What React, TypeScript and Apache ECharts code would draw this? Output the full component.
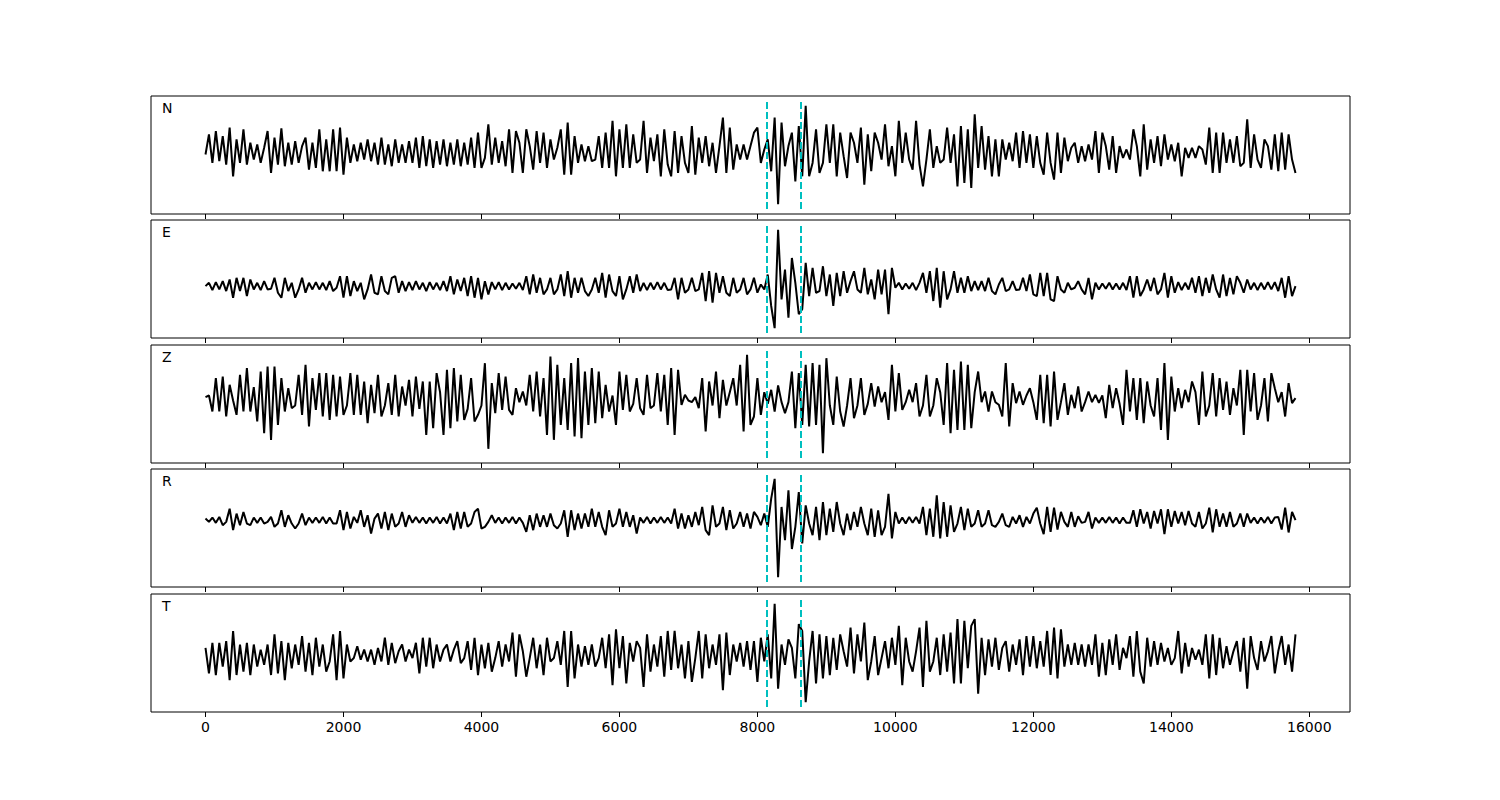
import React, { useEffect, useRef } from "react";
import * as echarts from "echarts";

// sample spacing along the x axis (samples)
const STEP = 50;
const CHANNELS = ["N", "E", "Z", "R", "T"];
const PICKS = [8130, 8630];
const TICKS = [0, 2000, 4000, 6000, 8000, 10000, 12000, 14000, 16000];
const X_MIN = -790;
const X_MAX = 16590;

const N_VALUES = [
  -5,55,-30,65,-25,50,-35,75,-70,40,-30,70,-35,30,-20,25,-30,15,65,-60,45,-35,73,-40,30,-35,35,-30,20,45,-50,30,-45,70,-55,40,-55,70,-55,75,-65,45,-30,25,-25,30,-20,40,-25,30,-35,45,-35,25,-40,40,-30,25,-30,35,-30,45,-45,50,-40,40,-45,35,-35,40,-40,30,-35,40,-40,30,-35,45,-45,
  60,-45,-15,85,-35,45,-30,35,-40,70,-60,65,30,-60,70,20,-50,65,-30,60,-45,40,-20,15,70,-65,90,-65,50,-30,25,-25,20,-25,-20,50,-45,60,-45,95,-70,70,-45,85,-45,55,-30,-20,95,-60,45,-25,55,-70,70,-35,-70,65,-60,50,-30,-60,80,-65,45,-30,50,-40,30,-60,20,105,-60,75,-50,25,-20,25,-20,20,60,
  75,-30,10,40,-55,105,-153,90,-40,20,60,-85,80,-70,140,-70,-30,70,-60,-30,85,-30,85,-70,60,-10,-75,60,30,-30,75,-95,55,-55,60,30,-20,85,-40,20,-70,95,-30,60,-20,-50,95,-35,-100,-20,70,-45,20,-30,-20,75,-30,55,-100,80,-90,70,-105,115,-45,80,-50,50,-70,40,-70,40,-20,30,-25,60,-45,65,-30,55,-45,
  50,-30,-65,60,-30,-80,60,-60,45,-25,15,30,-30,20,-25,25,-20,65,-60,60,20,-50,50,-60,20,-15,10,-20,70,20,-70,85,-50,40,-30,50,-40,55,-20,25,-25,30,-70,15,-15,15,-15,20,10,-35,75,-60,60,-60,60,-30,40,-30,50,-40,-30,100,-45,55,-20,-45,40,20,-50,55,-55,60,-50,55,-20,-60,
];

const E_VALUES = [
  0,10,-12,12,-10,15,-15,20,-35,25,-15,25,-30,20,-10,10,-12,15,-10,-8,25,-20,-35,25,-15,10,-35,-10,25,-20,10,-10,12,-10,10,-12,15,-15,-5,30,-35,30,-30,15,-15,10,-40,-10,35,-20,-25,30,-15,-25,25,30,-20,15,-15,12,-12,15,-10,10,-15,12,-10,10,-12,15,-15,30,-25,20,-15,25,-30,30,-35,
  25,-40,15,-25,12,-10,12,-12,10,-10,8,-8,10,-12,30,-25,35,-20,25,-25,-10,25,-25,-10,35,-30,45,-35,25,-20,25,-15,-30,-10,25,-20,40,-35,35,-15,-30,30,-40,-10,30,-20,35,-15,10,-12,10,-10,12,-10,10,-12,-10,25,-40,25,-20,-10,25,-15,-10,40,-45,45,-50,40,-20,30,-20,-30,25,-20,-10,25,-25,-10,25,
  -20,5,-10,35,-60,-127,170,-40,50,-95,85,10,-85,-70,70,-30,55,-20,-15,60,-30,35,-60,40,-30,45,-20,15,45,-10,-20,55,-25,20,-40,50,-25,50,-85,55,-5,10,-10,8,-8,10,-12,10,40,-20,45,-45,55,-65,45,-40,-10,45,-20,25,-20,30,-15,15,-12,15,-15,25,-15,-25,5,25,-15,-10,15,-12,-10,25,-15,35,-25,
  -30,40,-30,40,-40,-45,30,-10,-20,10,-10,-5,15,-10,-25,25,-40,10,-10,8,-8,10,-10,8,-10,10,-12,30,-35,30,-30,-10,20,-15,25,-25,-10,40,-35,30,-20,12,-12,10,-10,25,-20,30,-30,25,-20,35,-10,-35,35,-30,25,-25,30,10,-20,20,-10,10,-12,10,-10,12,-10,12,-15,25,-35,30,-30,0,
];

const Z_VALUES = [
  5,10,-38,62,-38,67,-53,42,-5,-48,72,-38,92,-38,35,-68,82,-103,97,-123,97,-78,62,-38,32,-28,-20,72,-48,102,-83,62,-33,77,-53,77,-63,72,-53,67,-48,-20,77,-48,72,-48,52,-73,42,-43,72,-53,-20,47,-48,72,-53,37,-20,57,-53,67,-30,52,-108,52,-88,77,20,-108,87,-88,92,-68,72,-63,-30,62,-68,
  -48,-20,107,-150,47,-43,77,-33,67,-33,-48,32,-10,22,-20,72,-38,82,-53,62,-108,127,-123,102,-78,62,-93,107,-113,122,-118,82,-78,92,-73,82,-58,42,-38,10,-78,82,-33,72,-38,-15,62,-28,-48,72,-28,-20,77,-38,72,-78,92,-108,87,-18,12,-5,-10,5,-28,62,-98,52,-20,82,-58,57,-20,20,62,-20,102,-98,132,-78,-53,
  62,-48,20,-15,27,-38,40,-10,-43,-10,82,-88,77,-78,102,-83,107,-78,102,-163,122,-20,-78,67,-38,-83,-20,62,-58,-20,62,-48,-15,47,-23,37,-10,20,-63,102,-38,77,-33,-10,27,-10,47,-53,-20,72,-53,-20,62,20,-78,107,-103,87,-93,112,-93,102,-88,20,82,-10,22,-38,22,-10,-18,-53,107,-83,47,-13,22,-18,10,32,-10,
  -63,72,-73,72,-83,82,-63,-10,47,-48,12,-28,37,-38,-10,22,-10,12,-12,10,-58,42,-28,32,-15,-78,87,-38,62,-63,62,-73,52,-20,-53,62,-93,107,-123,67,-38,32,-28,27,-10,52,20,-78,82,-53,-20,77,-53,62,-33,52,-48,32,-20,87,-108,87,-38,77,-63,-20,62,-68,77,32,-10,20,-53,47,-13,2,
];

const R_VALUES = [
  5,-5,8,-8,10,-15,-5,35,-30,20,-15,25,-10,-15,8,-8,8,-10,-5,10,-20,-10,30,-20,15,-10,-25,-10,20,-15,8,-8,8,-8,10,-10,8,-10,-10,30,-30,25,-25,10,-8,30,-20,15,-40,5,20,-25,25,-30,20,-20,-10,25,-20,15,-8,10,-8,8,-10,8,-8,10,-10,8,-10,20,-30,25,-25,25,-20,-10,25,
  35,-25,-20,-5,15,-8,8,-10,8,-8,10,-10,8,-8,-35,15,-30,20,-20,15,-20,20,-15,-25,-10,30,-50,30,-30,20,-25,20,-20,35,-20,25,-20,-45,30,-20,-10,35,-20,25,-20,15,-40,8,-8,10,-10,8,-8,10,-8,8,-10,35,-25,20,-25,15,-20,25,-15,40,-30,-45,45,-20,-10,40,-30,30,-25,-10,25,-20,20,-25,25,
  10,-15,20,-20,65,125,-172,40,-60,90,-87,-20,85,-70,45,-10,-45,40,-60,55,-45,35,-35,55,-10,-45,20,-30,25,-20,40,-10,-45,35,-50,30,-45,-20,80,-55,25,-10,8,-10,10,-8,10,-10,40,-45,35,-50,75,-55,55,-50,45,-35,-10,40,-30,35,-20,-10,30,-20,-10,30,-15,-20,-5,20,-15,-20,10,-10,15,-20,10,-10,20,
  38,-10,-42,40,-35,38,-28,25,-5,-20,25,-20,12,-8,-5,25,-25,8,-8,8,-8,10,-8,8,-10,8,-8,-8,30,-20,33,-10,25,-25,28,-10,33,-42,33,-20,28,-10,25,-15,28,-10,-20,25,-25,-10,38,-37,33,-20,20,-20,25,-20,-10,20,-20,20,-8,8,-10,8,-8,10,-10,8,10,-28,38,-37,25,0,
];

const T_VALUES = [
  20,-55,35,-60,35,-35,40,-75,70,-60,30,-50,35,-60,30,-35,15,-30,30,-60,60,-55,40,-75,35,-40,30,-30,55,-50,35,-60,50,-35,30,-50,-20,60,-75,70,-70,30,-20,-10,25,-15,15,-20,15,-30,20,-20,50,-30,35,-25,10,30,-20,15,-10,35,-55,50,-35,50,-40,30,-20,15,30,-20,15,40,-25,-10,40,-45,50,
  -60,30,-40,35,-50,-10,40,-35,30,-20,65,-65,60,10,-65,-10,50,-40,30,-60,50,-20,-10,40,-30,70,-95,70,-70,30,-35,25,-30,30,-35,-10,50,-40,60,-90,75,-40,55,-85,35,-20,40,20,-95,60,-50,30,-35,55,-65,70,-45,70,-40,30,-70,40,-80,-10,70,-70,60,-40,30,-30,60,-105,65,-60,30,-20,35,-35,40,-45,40,
  -80,50,-20,60,-70,150,-100,30,-30,45,20,-70,90,70,-140,-20,70,-85,60,-70,55,-60,50,-45,60,10,-35,80,-55,60,-20,95,-75,-20,55,-60,-10,40,-40,50,-30,85,-90,50,-20,-50,10,80,-95,100,-50,-20,50,-60,60,-50,65,-85,105,-85,100,-40,85,105,-115,50,-60,45,-35,50,-45,20,40,-50,30,-30,45,-60,55,-35,55,
  -40,40,-35,70,-60,80,-70,75,-35,30,-30,35,-30,30,-35,30,-30,60,-65,35,-60,45,-30,60,-45,20,-10,55,-65,70,-50,-85,50,-35,40,-30,35,-20,20,-30,-10,70,-55,35,-35,20,-15,15,-30,60,-70,60,-60,50,-40,25,-30,10,40,-50,50,-100,55,-10,-45,40,-20,10,55,-55,10,55,-30,30,-50,60,
];

const TRACES = [N_VALUES, E_VALUES, Z_VALUES, R_VALUES, T_VALUES];

const GRID_LEFT = 151;
const GRID_WIDTH = 1199;
const GRID_HEIGHT = 118;
const GRID_TOPS = [96, 220, 345, 469, 594];

export default function App() {
  const ref = useRef<HTMLDivElement>(null);

  useEffect(() => {
    if (!ref.current) return;
    const chart = echarts.init(ref.current, undefined, { renderer: "svg" });

    const grids: any[] = [];
    const xAxes: any[] = [];
    const yAxes: any[] = [];
    const series: any[] = [];
    const graphics: any[] = [];

    TRACES.forEach((vals, k) => {
      const lo = Math.min(...vals);
      const hi = Math.max(...vals);
      const range = hi - lo;
      grids.push({
        left: GRID_LEFT,
        top: GRID_TOPS[k],
        width: GRID_WIDTH,
        height: GRID_HEIGHT,
        show: true,
        borderColor: "#000",
        borderWidth: 1,
        backgroundColor: "transparent",
      });
      xAxes.push({
        gridIndex: k,
        type: "value",
        min: X_MIN,
        max: X_MAX,
        axisLine: { show: false, onZero: false },
        splitLine: { show: false },
        axisTick: {
          show: true,
          customValues: TICKS,
          length: 5,
          inside: false,
          lineStyle: { color: "#000", width: 1 },
        },
        axisLabel: {
          show: k === TRACES.length - 1,
          customValues: TICKS,
          formatter: (v: number) => String(v),
          color: "#000",
          fontSize: 14,
          fontFamily: "DejaVu Sans",
          margin: 8,
        },
      });
      yAxes.push({
        gridIndex: k,
        type: "value",
        min: lo - 0.1 * range,
        max: hi + 0.1 * range,
        show: false,
        splitLine: { show: false },
      });
      series.push({
        type: "line",
        xAxisIndex: k,
        yAxisIndex: k,
        data: vals.map((v, i) => [i * STEP, v]),
        showSymbol: false,
        symbol: "none",
        silent: true,
        lineStyle: { color: "#000", width: 2 },
        markLine: {
          silent: true,
          symbol: ["none", "none"],
          label: { show: false },
          lineStyle: { color: "#00bfbf", type: [7, 3], width: 2 },
          data: PICKS.map((p) => [
            { coord: [p, lo - 0.05 * range] },
            { coord: [p, hi + 0.05 * range] },
          ]),
        },
      });
      graphics.push({
        type: "text",
        left: 162,
        top: GRID_TOPS[k] + 5,
        style: {
          text: CHANNELS[k],
          fill: "#000",
          fontSize: 14,
          fontFamily: "DejaVu Sans",
        },
      });
    });

    chart.setOption({
      animation: false,
      backgroundColor: "#fff",
      grid: grids,
      xAxis: xAxes,
      yAxis: yAxes,
      series,
      graphic: graphics,
    });

    return () => chart.dispose();
  }, []);

  return (
    <div
      ref={ref}
      style={{ position: "absolute", left: 0, top: 0, width: 1500, height: 800 }}
    />
  );
}
